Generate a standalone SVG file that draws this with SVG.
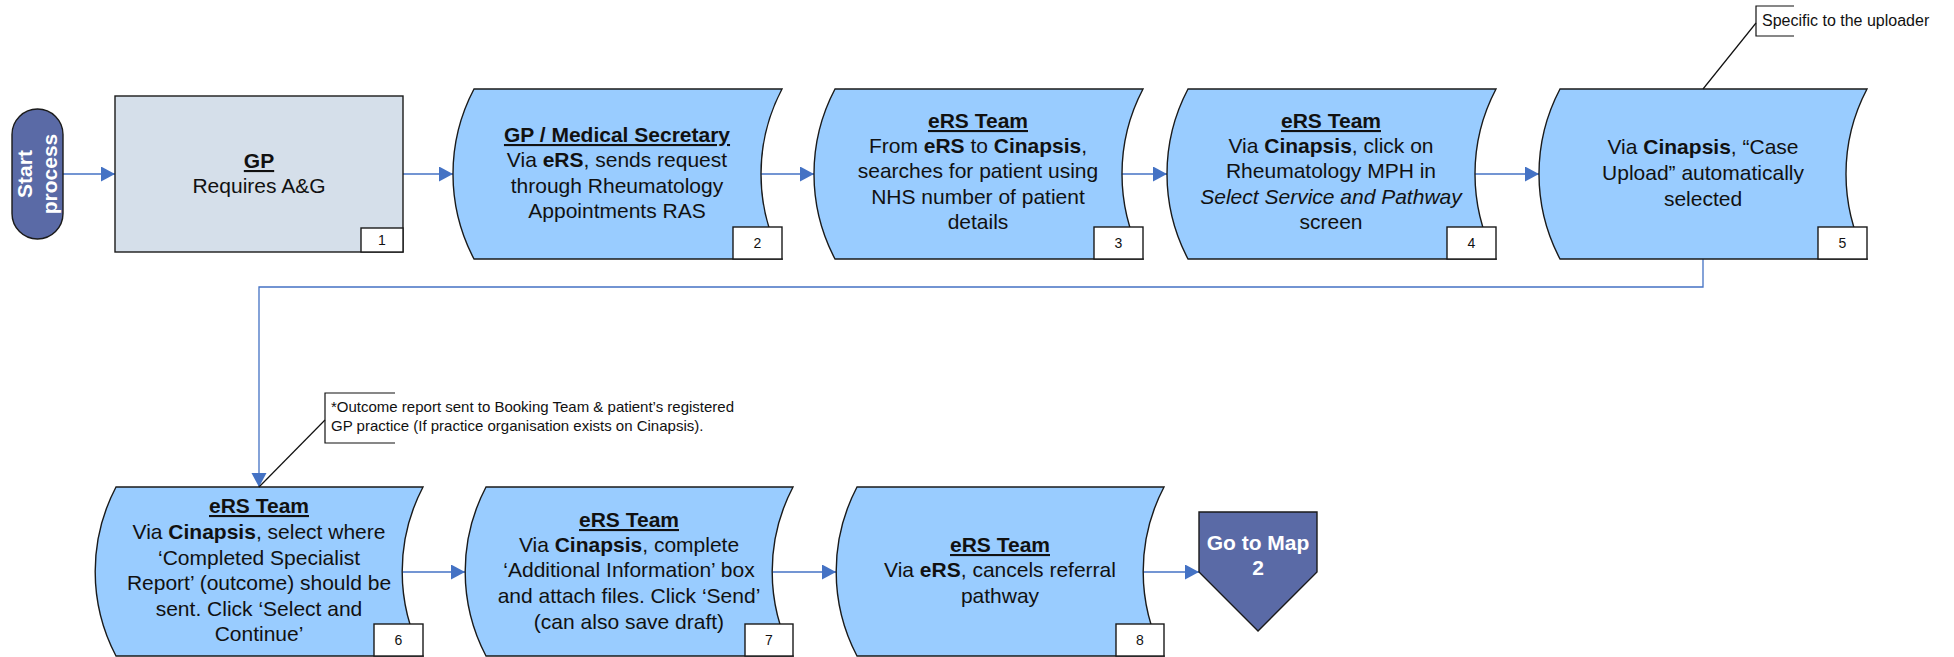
<svg xmlns="http://www.w3.org/2000/svg" width="1954" height="657" viewBox="0 0 1954 657">
<style>
.bg{fill:#fff}
.wave{fill:#99CCFF;stroke:#1a1a1a;stroke-width:1.4}
.gp{fill:#D5DFEA;stroke:#1a1a1a;stroke-width:1.4}
.num{fill:#fff;stroke:#1a1a1a;stroke-width:1.4}
.term{fill:#5A6AA6;stroke:#1a1a1a;stroke-width:1.4}
.t{font-family:"Liberation Sans",Arial,sans-serif;font-size:21px;fill:#111;text-anchor:middle}
.w{fill:#fff;font-weight:bold}
.b{font-weight:bold}
.u{font-weight:bold;text-decoration:underline}
.i{font-style:italic}
.nt{font-family:"Liberation Sans",Arial,sans-serif;font-size:14px;fill:#111;text-anchor:middle}
.ct{font-family:"Liberation Sans",Arial,sans-serif;font-size:16px;fill:#111}
.ct2{font-family:"Liberation Sans",Arial,sans-serif;font-size:15px;fill:#111}
.conn{fill:none;stroke:#4472C4;stroke-width:1.3}
.call{fill:none;stroke:#111;stroke-width:1.2}
</style>
<defs>
<marker id="arr" markerUnits="userSpaceOnUse" markerWidth="15" markerHeight="16" refX="14" refY="7.5" orient="auto">
<path d="M0,0 L14,7.5 L0,15 Z" fill="#4472C4"/>
</marker>
</defs>
<rect class="bg" x="0" y="0" width="1954" height="657"/>

<g id="connectors">
<path class="conn" d="M63,174 H115" marker-end="url(#arr)"/>
<path class="conn" d="M403,174 H453" marker-end="url(#arr)"/>
<path class="conn" d="M760,174 H814" marker-end="url(#arr)"/>
<path class="conn" d="M1122,174 H1167" marker-end="url(#arr)"/>
<path class="conn" d="M1474,174 H1539" marker-end="url(#arr)"/>
<path class="conn" d="M1703,259 V287 H259 V487" stroke-width="1" marker-end="url(#arr)"/>
<path class="conn" d="M403,572 H465" marker-end="url(#arr)"/>
<path class="conn" d="M773,572 H836" marker-end="url(#arr)"/>
<path class="conn" d="M1143,572 H1199" marker-end="url(#arr)"/>
</g>

<g id="start">
<rect class="term" x="12" y="109" width="51" height="130" rx="25.5"/>
<text class="t w" transform="translate(32,174) rotate(-90)">Start</text>
<text class="t w" transform="translate(57,174) rotate(-90)">process</text>
</g>

<g id="node1">
<rect class="gp" x="115" y="96" width="288" height="156"/>
<text class="t" x="259" y="168"><tspan class="u">GP</tspan></text>
<text class="t" x="259" y="193">Requires A&amp;G</text>
<rect class="num" x="361" y="228" width="42" height="24"/>
<text class="nt" x="382" y="245">1</text>
</g>

<g id="node2">
<path class="wave" d="M474,89 H782 A182.5,182.5 0 0 0 782,259 H474 A182.5,182.5 0 0 1 474,89 Z"/>
<text class="t" x="617" y="142"><tspan class="u">GP / Medical Secretary</tspan></text>
<text class="t" x="617" y="167">Via <tspan class="b">eRS</tspan>, sends request</text>
<text class="t" x="617" y="193">through Rheumatology</text>
<text class="t" x="617" y="218">Appointments RAS</text>
<rect class="num" x="733" y="227" width="49" height="32"/>
<text class="nt" x="757.5" y="248">2</text>
</g>

<g id="node3">
<path class="wave" d="M835,89 H1143 A182.5,182.5 0 0 0 1143,259 H835 A182.5,182.5 0 0 1 835,89 Z"/>
<text class="t" x="978" y="128"><tspan class="u">eRS Team</tspan></text>
<text class="t" x="978" y="153">From <tspan class="b">eRS</tspan> to <tspan class="b">Cinapsis</tspan>,</text>
<text class="t" x="978" y="178">searches for patient using</text>
<text class="t" x="978" y="204">NHS number of patient</text>
<text class="t" x="978" y="229">details</text>
<rect class="num" x="1094" y="227" width="49" height="32"/>
<text class="nt" x="1118.5" y="248">3</text>
</g>

<g id="node4">
<path class="wave" d="M1188,89 H1496 A182.5,182.5 0 0 0 1496,259 H1188 A182.5,182.5 0 0 1 1188,89 Z"/>
<text class="t" x="1331" y="128"><tspan class="u">eRS Team</tspan></text>
<text class="t" x="1331" y="153">Via <tspan class="b">Cinapsis</tspan>, click on</text>
<text class="t" x="1331" y="178">Rheumatology MPH in</text>
<text class="t i" x="1331" y="204">Select Service and Pathway</text>
<text class="t" x="1331" y="229">screen</text>
<rect class="num" x="1447" y="227" width="49" height="32"/>
<text class="nt" x="1471.5" y="248">4</text>
</g>

<g id="node5">
<path class="wave" d="M1560,89 H1867 A182.5,182.5 0 0 0 1867,259 H1560 A182.5,182.5 0 0 1 1560,89 Z"/>
<text class="t" x="1703" y="154">Via <tspan class="b">Cinapsis</tspan>, “Case</text>
<text class="t" x="1703" y="180">Upload” automatically</text>
<text class="t" x="1703" y="206">selected</text>
<rect class="num" x="1818" y="227" width="49" height="32"/>
<text class="nt" x="1842.5" y="248">5</text>
</g>

<g id="note1">
<path class="call" d="M1703,89 L1756,23"/>
<path class="call" d="M1794,6 H1756 V36 H1794"/>
<text class="ct" x="1762" y="26">Specific to the uploader</text>
</g>

<g id="node6">
<path class="wave" d="M116,487 H423 A182,182 0 0 0 423,656 H116 A182,182 0 0 1 116,487 Z"/>
<text class="t" x="259" y="513"><tspan class="u">eRS Team</tspan></text>
<text class="t" x="259" y="539">Via <tspan class="b">Cinapsis</tspan>, select where</text>
<text class="t" x="259" y="565">‘Completed Specialist</text>
<text class="t" x="259" y="590">Report’ (outcome) should be</text>
<text class="t" x="259" y="616">sent. Click ‘Select and</text>
<text class="t" x="259" y="641">Continue’</text>
<rect class="num" x="374" y="624" width="49" height="32"/>
<text class="nt" x="398.5" y="645">6</text>
</g>

<g id="note2">
<path class="call" d="M259,487 L325,420"/>
<path class="call" d="M395,393 H325 V443 H395"/>
<text class="ct2" x="331" y="412">*Outcome report sent to Booking Team &amp; patient’s registered</text>
<text class="ct2" x="331" y="431">GP practice (If practice organisation exists on Cinapsis).</text>
</g>

<g id="node7">
<path class="wave" d="M486,487 H793 A182,182 0 0 0 793,656 H486 A182,182 0 0 1 486,487 Z"/>
<text class="t" x="629" y="527"><tspan class="u">eRS Team</tspan></text>
<text class="t" x="629" y="552">Via <tspan class="b">Cinapsis</tspan>, complete</text>
<text class="t" x="629" y="577">‘Additional Information’ box</text>
<text class="t" x="629" y="603">and attach files. Click ‘Send’</text>
<text class="t" x="629" y="629">(can also save draft)</text>
<rect class="num" x="745" y="624" width="48" height="32"/>
<text class="nt" x="769" y="645">7</text>
</g>

<g id="node8">
<path class="wave" d="M857,487 H1164 A182,182 0 0 0 1164,656 H857 A182,182 0 0 1 857,487 Z"/>
<text class="t" x="1000" y="552"><tspan class="u">eRS Team</tspan></text>
<text class="t" x="1000" y="577">Via <tspan class="b">eRS</tspan>, cancels referral</text>
<text class="t" x="1000" y="603">pathway</text>
<rect class="num" x="1116" y="624" width="48" height="32"/>
<text class="nt" x="1140" y="645">8</text>
</g>

<g id="goto">
<path class="term" d="M1199,512 H1317 V572 L1258,631 L1199,572 Z"/>
<text class="t w" x="1258" y="550">Go to Map</text>
<text class="t w" x="1258" y="575">2</text>
</g>
</svg>
